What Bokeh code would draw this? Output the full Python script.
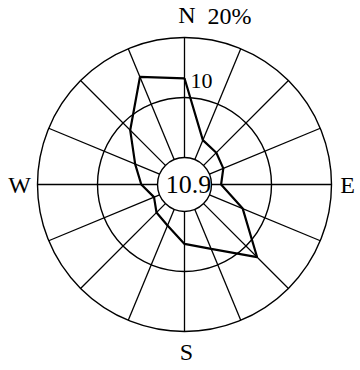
import numpy as np
from bokeh.plotting import figure
from bokeh.models import Range1d
from bokeh.core.properties import value
from bokeh.embed import file_html
from bokeh.resources import INLINE

# Wind frequency (%) by direction, clockwise from north
directions = ["N", "NNE", "NE", "ENE", "E", "ESE", "SE", "SSE",
              "S", "SSW", "SW", "WSW", "W", "WNW", "NW", "NNW"]
frequency = [13.2, 3.5, 3.0, 2.5, 1.6, 6.0, 12.6, 7.1,
             5.4, 2.9, 2.1, 1.0, 2.7, 4.4, 8.3, 14.9]
calm = 10.9
rings = [10, 20]

# radial scale: calm circle in the middle, then 6 units per percent
R0 = 27.0
K = 6.0


def radius(pct):
    return R0 + K * np.asarray(pct, dtype=float)


FONT = value("Liberation Serif")

p = figure(width=360, height=370, output_backend="svg", toolbar_location=None,
           x_range=Range1d(-184, 176), y_range=Range1d(-186, 184),
           min_border=0, outline_line_color=None)
p.axis.visible = False
p.grid.visible = False
p.background_fill_color = "white"
p.border_fill_color = "white"

ang = np.deg2rad(np.arange(len(directions)) * 360.0 / len(directions))

# calm circle and percentage rings
p.circle(x=[0, 0, 0], y=[0, 0, 0], radius=[R0] + list(radius(rings)),
         fill_color=None, line_color="black", line_width=1.4)

# direction spokes between the calm circle and the outer ring
r_out = float(radius(rings[-1]))
p.segment(x0=R0 * np.sin(ang), y0=R0 * np.cos(ang),
          x1=r_out * np.sin(ang), y1=r_out * np.cos(ang),
          line_color="black", line_width=1.3)

# frequency polygon
r = radius(frequency)
xs = list(r * np.sin(ang)) + [r[0] * np.sin(ang[0])]
ys = list(r * np.cos(ang)) + [r[0] * np.cos(ang[0])]
p.line(xs, ys, line_color="black", line_width=2.2)

# compass letters
lab_r = r_out + 22
p.text(x=[2.5, -lab_r + 4, lab_r - 6, 2], y=[169.5, 0, 0, -167],
       text=["N", "W", "E", "S"], text_font=FONT, text_font_size="24px",
       text_align="center", text_baseline="middle", text_color="black")

# ring labels and calm value
p.text(x=[23], y=[169], text=[f"{rings[-1]}%"], text_font=FONT,
       text_font_size="24px", text_align="left", text_baseline="middle")
p.text(x=[6], y=[104], text=[f"{rings[0]}"], text_font=FONT,
       text_font_size="22px", text_align="left", text_baseline="middle")
p.text(x=[4], y=[0], text=[f"{calm}"], text_font=FONT,
       text_font_size="26px", text_align="center", text_baseline="middle")

open("out.html", "w").write(file_html(p, INLINE))
